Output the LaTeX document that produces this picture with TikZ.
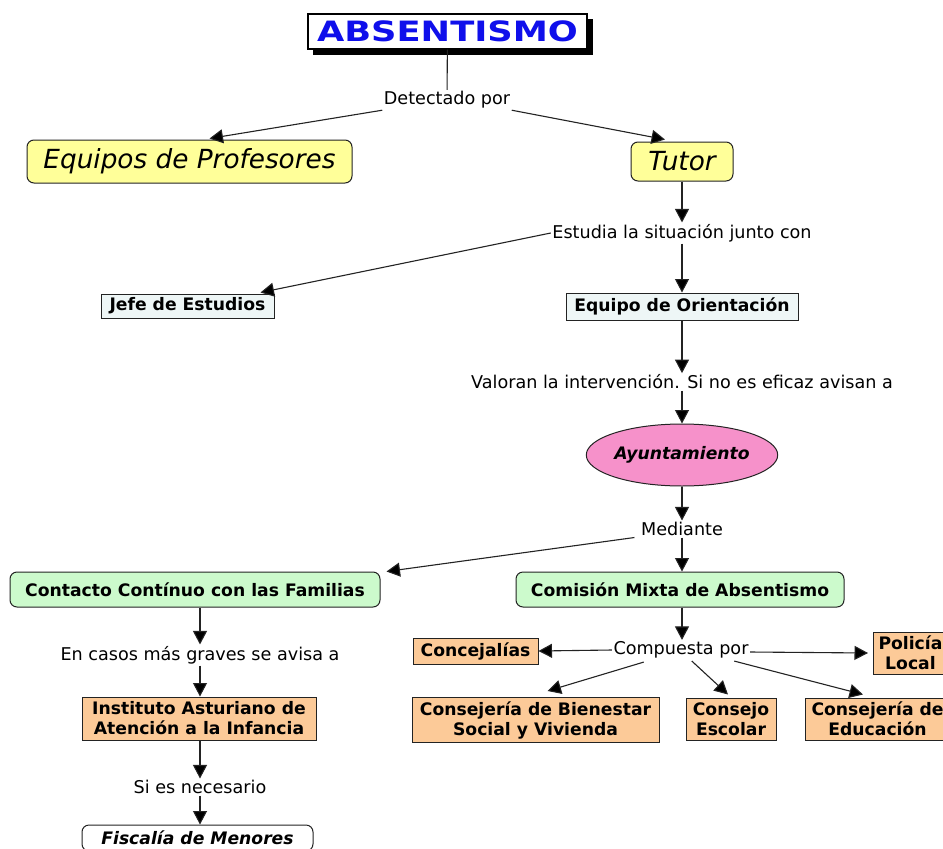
\documentclass[tikz,border=0pt]{standalone}
\usepackage{fontspec}
\setmainfont{DejaVu Sans}
\usetikzlibrary{arrows.meta,shapes.geometric,calc,shadows}
\definecolor{yel}{RGB}{255,255,153}
\definecolor{pale}{RGB}{238,246,246}
\definecolor{pink}{RGB}{246,145,202}
\definecolor{grn}{RGB}{204,250,204}
\definecolor{org}{RGB}{252,202,152}
\definecolor{ttl}{RGB}{15,15,235}
\definecolor{edge}{RGB}{35,35,35}
\begin{document}
\begin{tikzpicture}[x=1pt,y=-1pt,
  lbl/.style={font=\fontsize{17.6}{20}\selectfont, inner sep=1.5pt},
  box/.style={draw=edge, line width=1pt, inner sep=0pt, align=center,
    font=\fontsize{17.2}{20}\bfseries\selectfont},
  rbox/.style={box, rounded corners=7pt},
  conn/.style={draw=edge, line width=1.1pt},
  arr/.style={conn, -{Triangle[length=13.5pt,width=14pt,fill=black]}},
]
\useasboundingbox (0,0) rectangle (943,849);
\fill[white] (0,0) rectangle (943,849);
\clip (0,0) rectangle (943,849);

% title
\fill[black] (313,19) rectangle (593,55);
\node[draw=black, line width=1.3pt, fill=white, minimum width=279pt, minimum height=35pt,
  inner sep=0pt, text=ttl, font=\fontsize{28}{30}\bfseries\selectfont]
  (title) at (447.5,31.5) {\scalebox{1.26}[1]{ABSENTISMO}};

\node[lbl] (det) at (447,100) {Detectado por};
\node[rbox, fill=yel, minimum width=325pt, minimum height=43pt,
  font=\fontsize{26.3}{30}\itshape\selectfont] (equipos) at (189.5,161.5) {Equipos de Profesores};
\node[rbox, fill=yel, minimum width=102pt, minimum height=39pt,
  font=\fontsize{26.3}{30}\itshape\selectfont] (tutor) at (682,161.5) {Tutor};

\node[lbl] (estudia) at (682,233) {Estudia la situación junto con};
\node[box, fill=pale, minimum width=173pt, minimum height=24pt] (jefe) at (187.5,306) {Jefe de Estudios};
\node[box, fill=pale, minimum width=232pt, minimum height=27pt] (orient) at (682,306.5) {Equipo de Orientación};

\node[lbl] (valoran) at (682,382) {Valoran la intervención. Si no es eficaz avisan a};
\node[ellipse, draw=edge, line width=1pt, fill=pink, minimum width=172pt, minimum height=62pt,
  inner sep=0pt, font=\fontsize{17.2}{20}\bfseries\itshape\selectfont] (ayunt) at (682,455) {Ayuntamiento};

\node[lbl] (mediante) at (682,529) {Mediante};
\node[rbox, fill=grn, minimum width=328pt, minimum height=35pt] (comision) at (680,589.5) {Comisión Mixta de Absentismo};
\node[rbox, fill=grn, minimum width=370pt, minimum height=35pt] (contacto) at (195,589.5) {Contacto Contínuo con las Familias};

\node[lbl] (encasos) at (200,655) {En casos más graves se avisa a};
\node[box, fill=org, minimum width=234pt, minimum height=43pt] (instituto) at (199,718.5) {Instituto Asturiano de\\Atención a la Infancia};
\node[lbl] (sies) at (200,787) {Si es necesario};
\node[rbox, fill=white, minimum width=231pt, minimum height=26pt,
  font=\fontsize{17.2}{20}\bfseries\itshape\selectfont] (fiscalia) at (197.5,838) {Fiscalía de Menores};

\node[lbl] (compuesta) at (681,650) {Compuesta por};
\node[box, fill=org, minimum width=125pt, minimum height=26pt] (concej) at (475.5,651) {Concejalías};
\node[box, fill=org, minimum height=42pt, inner xsep=5pt, anchor=west] (policia) at (873,653) {Policía\\Local};
\node[box, fill=org, minimum width=247pt, minimum height=45pt] (bienestar) at (535.5,720) {Consejería de Bienestar\\Social y Vivienda};
\node[box, fill=org, minimum width=90pt, minimum height=42pt] (consejo) at (731,719) {Consejo\\Escolar};
\node[box, fill=org, minimum height=42pt, inner xsep=6pt, anchor=west] (educ) at (805,719) {Consejería de\\Educación};

% connectors
\draw[conn] (title) -- (det);
\draw[arr] (det.south west) -- ($(equipos.north)+(20,-1)$);
\draw[arr] (det.south east) -- ($(tutor.north)+(-17,-2)$);
\draw[arr] (tutor) -- (estudia);
\draw[arr] (estudia.west) -- ($(jefe.north east)+(-14,-1)$);
\draw[arr] (estudia) -- (orient);
\draw[arr] (orient) -- (valoran);
\draw[arr] (valoran) -- (ayunt);
\draw[arr] (ayunt) -- (mediante);
\draw[arr] (mediante.south) -- (mediante.south |- comision.north);
\draw[arr] ($(mediante.south west)+(-5,0)$) -- ($(contacto.north east)+(6,0)$);
\draw[arr] (contacto.south -| encasos.north) -- (encasos.north);
\draw[arr] (encasos.south) -- (encasos.south |- instituto.north);
\draw[arr] (instituto.south -| sies.north) -- (sies.north);
\draw[arr] (sies.south) -- (sies.south |- fiscalia.north);
\draw[arr] (comision.south -| mediante) -- (compuesta.north -| mediante);
\draw[arr] (compuesta.west) -- (concej.east);
\draw[arr] ($(compuesta.east)+(0,2)$) -- ($(policia.west)+(-5,0)$);
\draw[arr] ($(compuesta.south west)+(32,2)$) -- ($(bienestar.north)+(12,-6)$);
\draw[arr] ($(compuesta.south west)+(80,1)$) -- ($(consejo.north)+(-3,-3)$);
\draw[arr] ($(compuesta.south east)+(-16,1)$) -- ($(educ.north west)+(58,-3)$);
\end{tikzpicture}
\end{document}
